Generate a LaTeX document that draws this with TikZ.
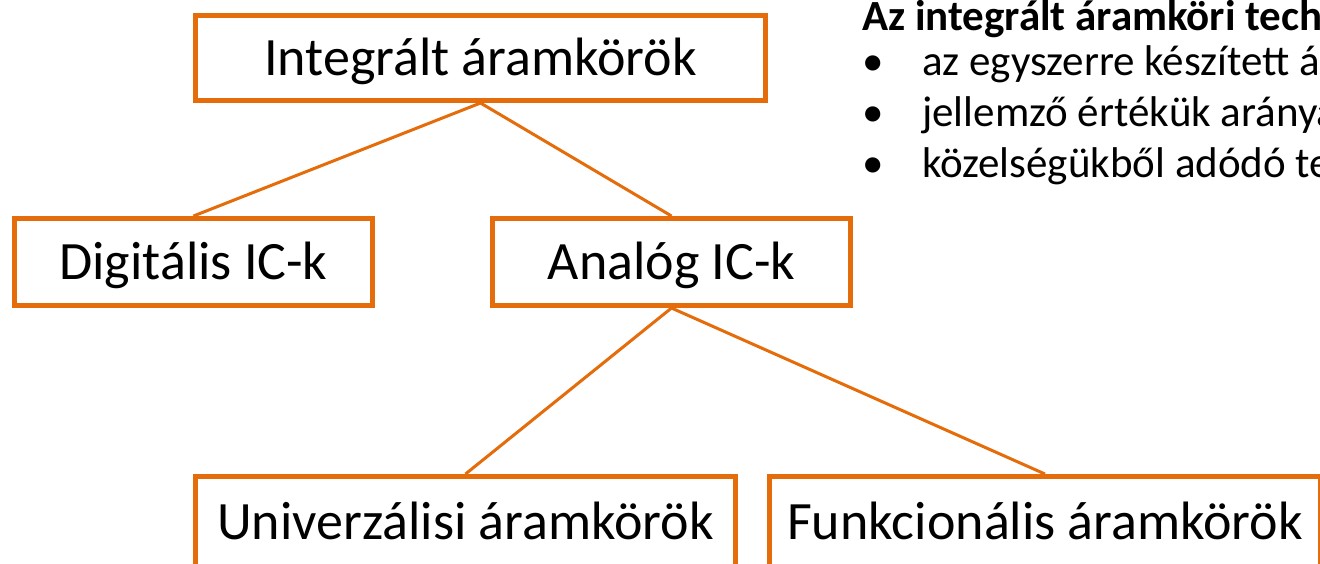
\documentclass[tikz,border=0pt]{standalone}
\usepackage{fontspec}
\setmainfont{Carlito}
\definecolor{icorange}{HTML}{E46C0A}

\begin{document}
\begin{tikzpicture}[x=1pt,y=-1pt,
    icbox/.style={draw=icorange,line width=5pt,inner sep=0pt,minimum height=87pt,
      text height=40pt,text depth=5pt,font=\fontsize{54}{64}\selectfont},
    icline/.style={draw=icorange,line width=3pt},
    rtext/.style={anchor=base west,inner sep=0pt,font=\fontsize{43}{52}\selectfont}]
      \useasboundingbox (0,0) rectangle (1320,563);
      \node[icbox,minimum width=570pt,minimum height=85pt] (integ) at (480.5,58) {Integrált áramkörök};
      \node[icbox,minimum width=358pt] (digit) at (193.5,262) {Digitális IC-k};
      \node[icbox,minimum width=358pt] (analog) at (671.5,262) {Analóg IC-k};
      \node[icbox,minimum width=540pt,minimum height=90pt] (univ) at (465.5,521.5) {Univerzálisi áramkörök};
      \node[icbox,minimum width=551pt,minimum height=90pt] (funk) at (1045,521.5) {Funkcionális áramkörök};
      \draw[icline] (integ.south) -- (digit.north);
      \draw[icline] (integ.south) -- (analog.north);
      \draw[icline] (analog.south) -- (univ.north);
      \draw[icline] (analog.south) -- (funk.north);
      \node[rtext,font=\bfseries\fontsize{43}{52}\selectfont] (title) at (862,30) {Az integrált áramköri tech};
      \node[rtext] (dot1) at (862,75) {•};
      \node[rtext] (dot2) at (862,126) {•};
      \node[rtext] (dot3) at (862,177) {•};
      \node[rtext] (item1) at (922,75) {az egyszerre készített á};
      \node[rtext] (item2) at (922,126) {jellemző értékük aránya};
      \node[rtext] (item3) at (922,177) {közelségükből adódó te};
    \end{tikzpicture}
\end{document}
